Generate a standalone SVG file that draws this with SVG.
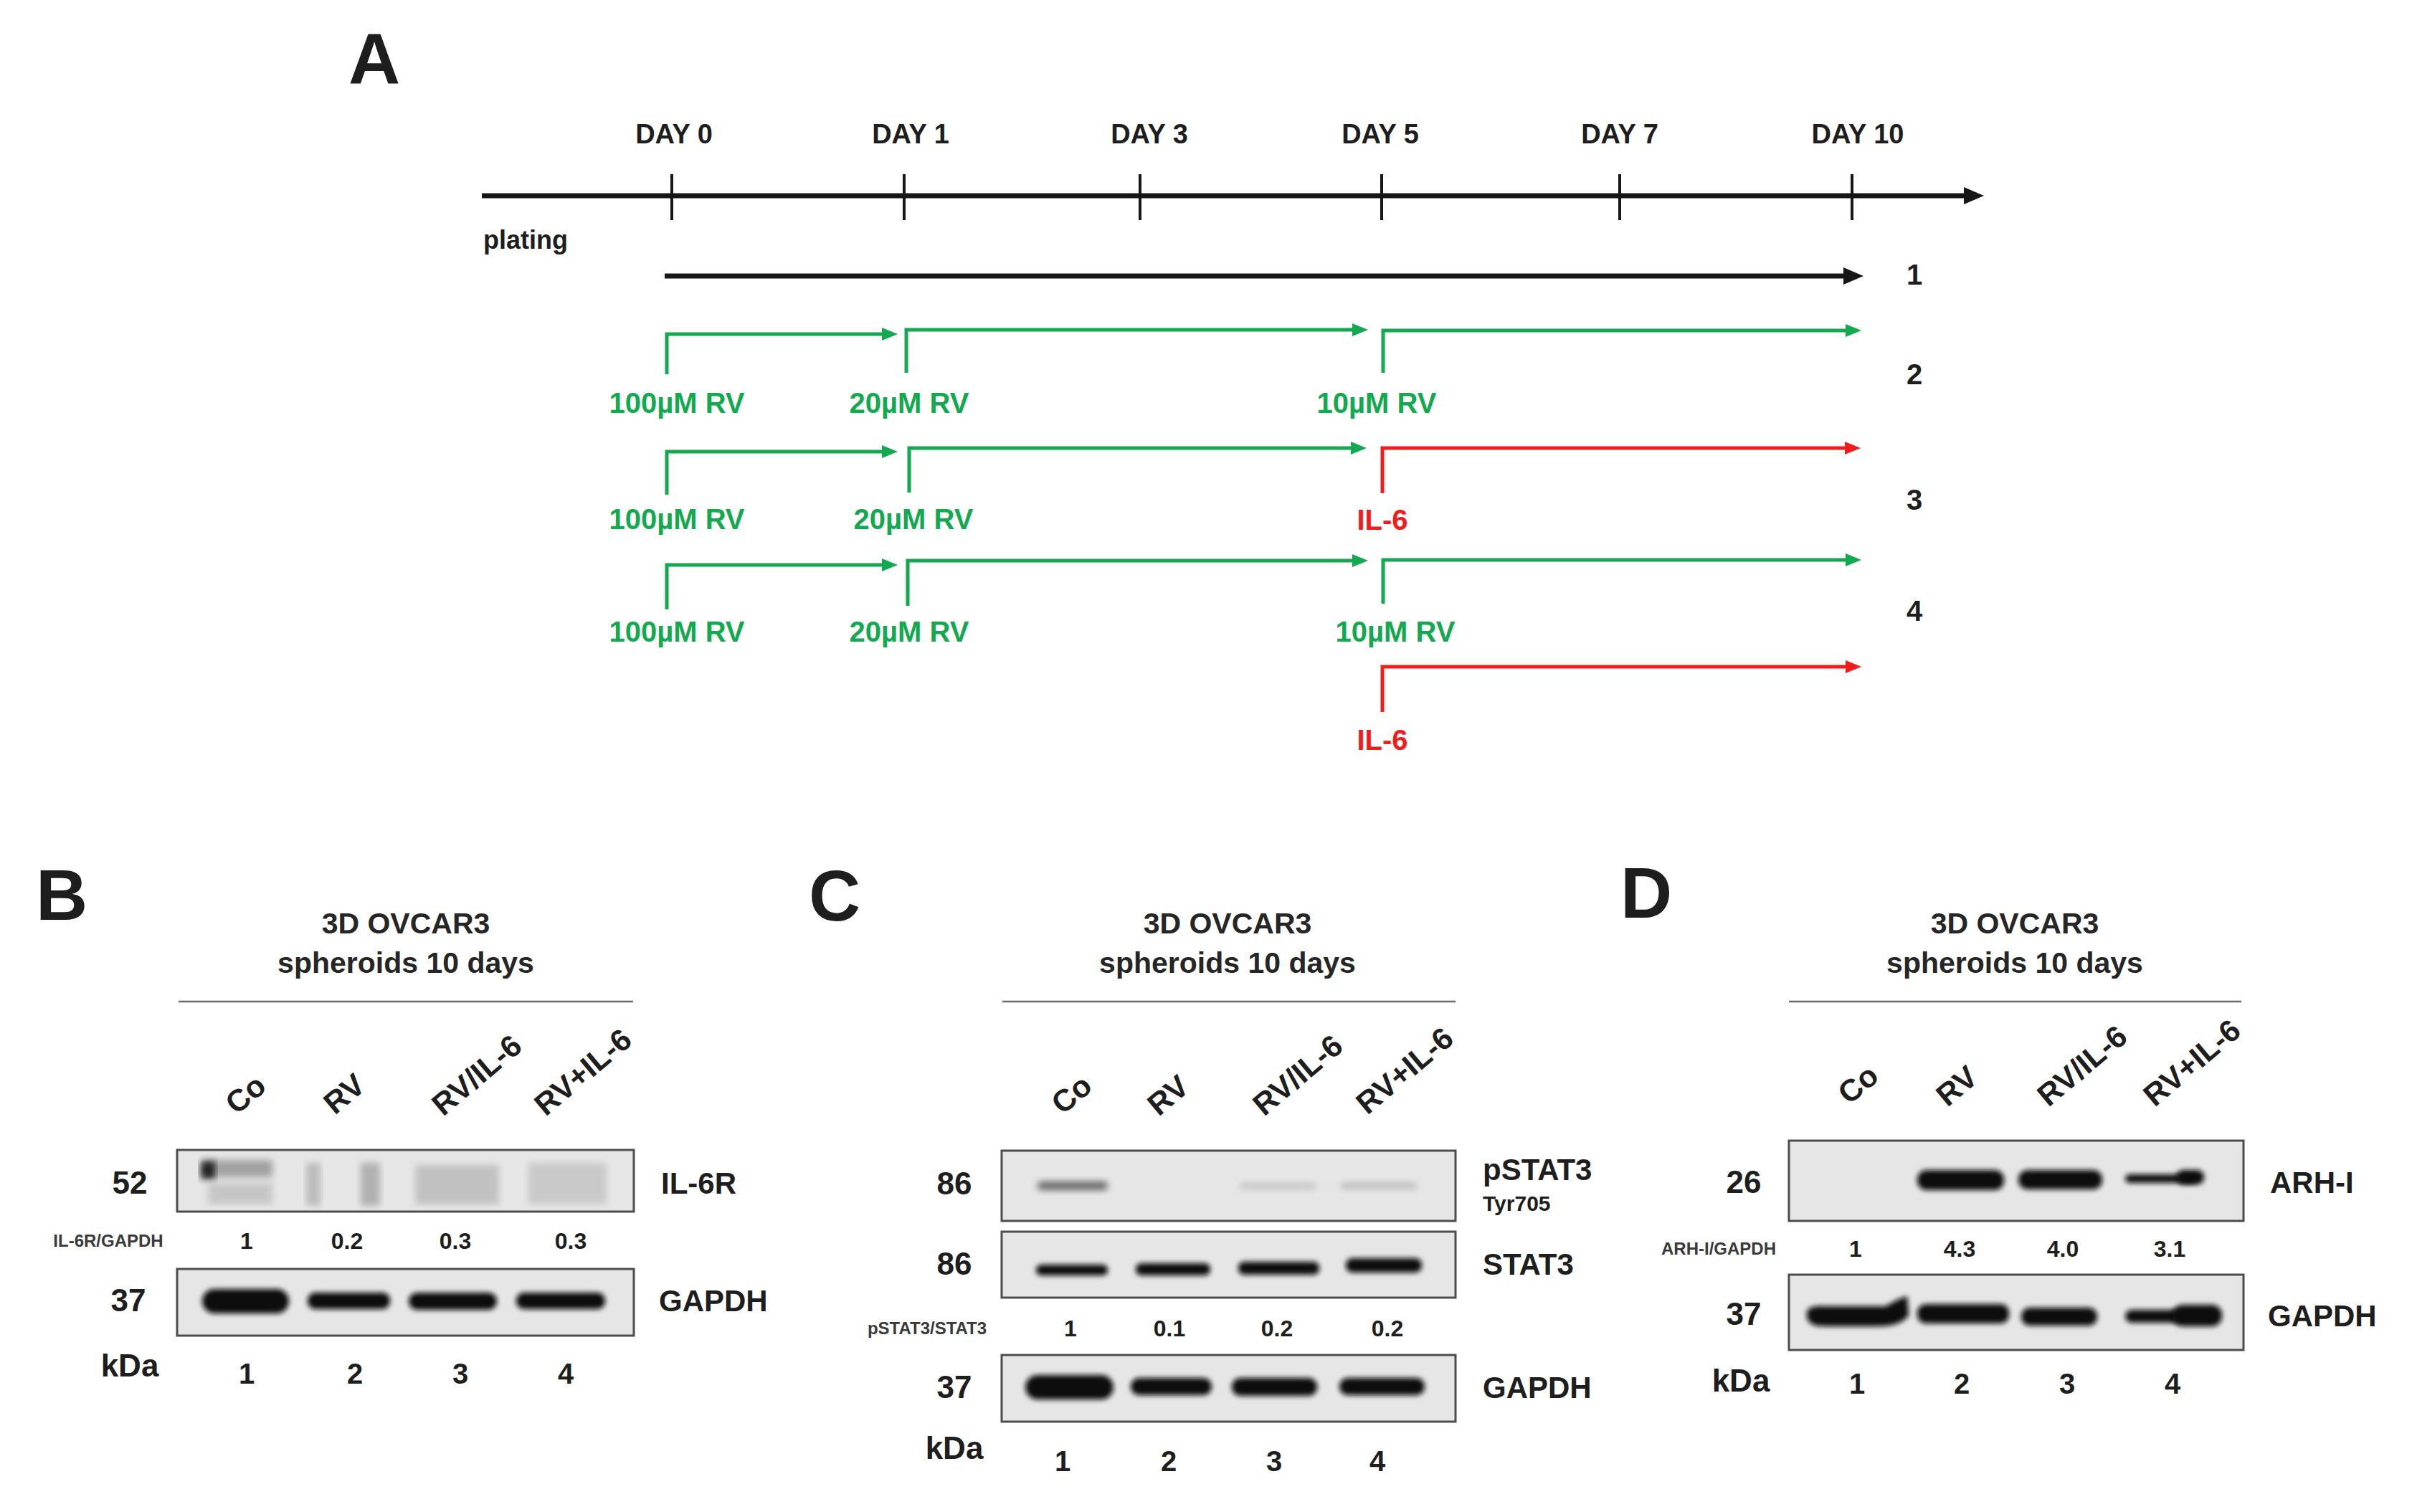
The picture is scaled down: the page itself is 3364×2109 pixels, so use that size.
<svg xmlns="http://www.w3.org/2000/svg" width="3364" height="2109" viewBox="0 0 3364 2109">
<defs>
<style>
.t{font-family:"Liberation Sans",Arial,sans-serif;font-weight:bold;fill:#1e1e1e}
.big{font-size:100px}
.day{font-size:38px;text-anchor:middle}
.g{fill:#14a850;font-size:40px;text-anchor:middle}
.r{fill:#f01d1d;font-size:40px;text-anchor:middle}
.row{font-size:40px;text-anchor:middle}
.title{font-size:41px;text-anchor:middle;fill:#262626}
.mw{font-size:44px;text-anchor:middle}
.prot{font-size:42px}
.small{font-size:30px}
.rv{font-size:32px;text-anchor:middle}
.rl{font-size:24px;text-anchor:middle;fill:#3a3a3a}
.lane{font-size:43px}
.num{font-size:40px;text-anchor:middle}
.box{fill:#e6e6e6;stroke:#4d4d4d;stroke-width:3}
.ul{stroke:#6a6a6a;stroke-width:2.5}
.band{fill:#0b0b0b;filter:url(#bl)}
.faint{filter:url(#bl2)}
.gl{fill:none;stroke:#14a850;stroke-width:5}
.rlne{fill:none;stroke:#f01d1d;stroke-width:5}
.kl{fill:none;stroke:#161616;stroke-width:7}
.tick{stroke:#161616;stroke-width:4}
</style>
<filter id="bl" x="-20%" y="-60%" width="140%" height="220%"><feGaussianBlur stdDeviation="3.5"/></filter>
<filter id="bl2" x="-20%" y="-60%" width="140%" height="220%"><feGaussianBlur stdDeviation="5"/></filter>
<marker id="mg" markerUnits="userSpaceOnUse" markerWidth="24" markerHeight="22" refX="10" refY="11" orient="auto"><path d="M0,2 L22,11 L0,20 z" fill="#14a850"/></marker>
<marker id="mr" markerUnits="userSpaceOnUse" markerWidth="24" markerHeight="22" refX="10" refY="11" orient="auto"><path d="M0,2 L22,11 L0,20 z" fill="#f01d1d"/></marker>
<marker id="mk" markerUnits="userSpaceOnUse" markerWidth="30" markerHeight="28" refX="12" refY="14" orient="auto"><path d="M0,2 L28,14 L0,26 z" fill="#161616"/></marker>
</defs>
<rect width="3364" height="2109" fill="#ffffff"/>

<!-- Panel A -->
<g id="panelA">
<text class="t big" x="486" y="117">A</text>
<g id="timeline">
<line class="tick" x1="937" y1="243" x2="937" y2="307"/>
<line class="tick" x1="1261" y1="243" x2="1261" y2="307"/>
<line class="tick" x1="1590" y1="243" x2="1590" y2="307"/>
<line class="tick" x1="1927" y1="243" x2="1927" y2="307"/>
<line class="tick" x1="2259" y1="243" x2="2259" y2="307"/>
<line class="tick" x1="2583" y1="243" x2="2583" y2="307"/>
<text class="t day" x="940" y="200">DAY 0</text>
<text class="t day" x="1270" y="200">DAY 1</text>
<text class="t day" x="1603" y="200">DAY 3</text>
<text class="t day" x="1925" y="200">DAY 5</text>
<text class="t day" x="2259" y="200">DAY 7</text>
<text class="t day" x="2591" y="200">DAY 10</text>
<text class="t" x="674" y="347" font-size="36" fill="#2a2a2a">plating</text>
</g>
<g id="rowlabels">
<text class="t row" x="2670" y="397">1</text>
<text class="t row" x="2670" y="536">2</text>
<text class="t row" x="2670" y="711">3</text>
<text class="t row" x="2670" y="866">4</text>
</g>
<g id="treatmentlabels">
<text class="t g" x="944" y="576">100µM RV</text>
<text class="t g" x="1268" y="576">20µM RV</text>
<text class="t g" x="1920" y="576">10µM RV</text>
<text class="t g" x="944" y="738">100µM RV</text>
<text class="t g" x="1274" y="738">20µM RV</text>
<text class="t r" x="1928" y="739">IL-6</text>
<text class="t g" x="944" y="895">100µM RV</text>
<text class="t g" x="1268" y="895">20µM RV</text>
<text class="t g" x="1946" y="895">10µM RV</text>
<text class="t r" x="1928" y="1046">IL-6</text>
</g>
</g>

<g id="connectors">
<path class="kl" d="M672,273 H2751" marker-end="url(#mk)"/>
<path class="kl" d="M927,385 H2583" stroke-width="6" marker-end="url(#mk)"/>
<path class="gl" d="M930,522 V466 H1240" marker-end="url(#mg)"/>
<path class="gl" d="M1264,520 V460 H1896" marker-end="url(#mg)"/>
<path class="gl" d="M1929,520 V461 H2584" marker-end="url(#mg)"/>
<path class="gl" d="M930,690 V630 H1240" marker-end="url(#mg)"/>
<path class="gl" d="M1268,687 V625 H1894" marker-end="url(#mg)"/>
<path class="rlne" d="M1928,688 V625 H2583" marker-end="url(#mr)"/>
<path class="gl" d="M930,850 V788 H1240" marker-end="url(#mg)"/>
<path class="gl" d="M1266,845 V782 H1896" marker-end="url(#mg)"/>
<path class="gl" d="M1929,842 V781 H2584" marker-end="url(#mg)"/>
<path class="rlne" d="M1928,993 V930 H2584" marker-end="url(#mr)"/>
</g>

<!-- Panel B -->
<g id="panelB">
<text class="t big" x="50" y="1283" font-size="92">B</text>
<text class="t title" x="566" y="1302">3D OVCAR3</text>
<text class="t title" x="566" y="1357">spheroids 10 days</text>
<line class="ul" x1="249" y1="1397" x2="883" y2="1397"/>
<text class="t lane" x="330" y="1556" transform="rotate(-40 330 1556)">Co</text>
<text class="t lane" x="467" y="1556" transform="rotate(-40 467 1556)">RV</text>
<text class="t lane" x="618" y="1558" transform="rotate(-40 618 1558)">RV/IL-6</text>
<text class="t lane" x="761" y="1558" transform="rotate(-40 761 1558)">RV+IL-6</text>
<g id="blotB1">
<rect class="box" x="247" y="1604" width="637" height="86"/>
<rect class="faint" x="285" y="1618" width="95" height="24" fill="#6a6a6a" opacity="0.55"/>
<rect class="faint" x="280" y="1620" width="20" height="24" fill="#222"/>
<rect class="faint" x="290" y="1650" width="90" height="30" fill="#a8a8a8" opacity="0.5"/>
<rect class="faint" x="427" y="1622" width="20" height="60" fill="#a0a0a0" opacity="0.6"/>
<rect class="faint" x="503" y="1622" width="27" height="60" fill="#8e8e8e" opacity="0.6"/>
<rect class="faint" x="579" y="1625" width="117" height="55" fill="#a4a4a4" opacity="0.55"/>
<rect class="faint" x="737" y="1622" width="109" height="58" fill="#b2b2b2" opacity="0.55"/>
</g>
<g id="blotB2">
<rect class="box" x="247" y="1770" width="637" height="93"/>
<rect class="band" x="282" y="1798" width="121" height="34" rx="17"/>
<rect class="band" x="429" y="1803" width="115" height="23" rx="11"/>
<rect class="band" x="570" y="1803" width="123" height="24" rx="12"/>
<rect class="band" x="720" y="1803" width="124" height="23" rx="11"/>
</g>
<text class="t mw" x="181" y="1665">52</text>
<text class="t mw" x="179" y="1829">37</text>
<text class="t prot" x="922" y="1665">IL-6R</text>
<text class="t prot" x="919" y="1829">GAPDH</text>
<text class="t rl" x="151" y="1739">IL-6R/GAPDH</text>
<text class="t rv" x="344" y="1742">1</text>
<text class="t rv" x="484" y="1742">0.2</text>
<text class="t rv" x="635" y="1742">0.3</text>
<text class="t rv" x="796" y="1742">0.3</text>
<text class="t mw" x="181" y="1920" font-size="42">kDa</text>
<text class="t num" x="344" y="1930">1</text>
<text class="t num" x="495" y="1930">2</text>
<text class="t num" x="642" y="1930">3</text>
<text class="t num" x="789" y="1930">4</text>
</g>

<!-- Panel C -->
<g id="panelC">
<text class="t big" x="1128" y="1284" font-size="92">C</text>
<text class="t title" x="1712" y="1302">3D OVCAR3</text>
<text class="t title" x="1712" y="1357">spheroids 10 days</text>
<line class="ul" x1="1398" y1="1397" x2="2030" y2="1397"/>
<text class="t lane" x="1482" y="1556" transform="rotate(-40 1482 1556)">Co</text>
<text class="t lane" x="1616" y="1558" transform="rotate(-40 1616 1558)">RV</text>
<text class="t lane" x="1763" y="1558" transform="rotate(-40 1763 1558)">RV/IL-6</text>
<text class="t lane" x="1907" y="1556" transform="rotate(-40 1907 1556)">RV+IL-6</text>
<g id="blotC1">
<rect class="box" x="1397" y="1605" width="633" height="98"/>
<rect class="faint" x="1447" y="1648" width="98" height="12" fill="#4a4a4a" opacity="0.8" rx="5"/>
<rect class="faint" x="1729" y="1650" width="106" height="9" fill="#c4c4c4" rx="4"/>
<rect class="faint" x="1870" y="1649" width="106" height="10" fill="#c0c0c0" rx="4"/>
</g>
<g id="blotC2">
<rect class="box" x="1397" y="1718" width="633" height="92"/>
<rect class="band" x="1445" y="1764" width="100" height="15" rx="7" fill="#202020"/>
<rect class="band" x="1584" y="1762" width="104" height="17" rx="8"/>
<rect class="band" x="1727" y="1760" width="113" height="18" rx="8"/>
<rect class="band" x="1877" y="1755" width="106" height="20" rx="9" fill="#222"/>
</g>
<g id="blotC3">
<rect class="box" x="1397" y="1890" width="633" height="93"/>
<rect class="band" x="1430" y="1918" width="123" height="34" rx="17"/>
<rect class="band" x="1577" y="1922" width="113" height="24" rx="12"/>
<rect class="band" x="1718" y="1922" width="119" height="25" rx="12"/>
<rect class="band" x="1868" y="1922" width="119" height="24" rx="12"/>
</g>
<text class="t mw" x="1331" y="1666">86</text>
<text class="t mw" x="1331" y="1778">86</text>
<text class="t mw" x="1331" y="1950">37</text>
<text class="t prot" x="2068" y="1646" font-size="38">pSTAT3</text>
<text class="t small" x="2068" y="1689">Tyr705</text>
<text class="t prot" x="2068" y="1778">STAT3</text>
<text class="t prot" x="2068" y="1950">GAPDH</text>
<text class="t rl" x="1293" y="1861">pSTAT3/STAT3</text>
<text class="t rv" x="1493" y="1864">1</text>
<text class="t rv" x="1631" y="1864">0.1</text>
<text class="t rv" x="1781" y="1864">0.2</text>
<text class="t rv" x="1935" y="1864">0.2</text>
<text class="t mw" x="1331" y="2035" font-size="42">kDa</text>
<text class="t num" x="1482" y="2052">1</text>
<text class="t num" x="1630" y="2052">2</text>
<text class="t num" x="1777" y="2052">3</text>
<text class="t num" x="1921" y="2052">4</text>
</g>

<!-- Panel D -->
<g id="panelD">
<text class="t big" x="2260" y="1280" font-size="92">D</text>
<text class="t title" x="2810" y="1302">3D OVCAR3</text>
<text class="t title" x="2810" y="1357">spheroids 10 days</text>
<line class="ul" x1="2495" y1="1397" x2="3126" y2="1397"/>
<text class="t lane" x="2579" y="1542" transform="rotate(-40 2579 1542)">Co</text>
<text class="t lane" x="2716" y="1545" transform="rotate(-40 2716 1545)">RV</text>
<text class="t lane" x="2857" y="1545" transform="rotate(-40 2857 1545)">RV/IL-6</text>
<text class="t lane" x="3005" y="1545" transform="rotate(-40 3005 1545)">RV+IL-6</text>
<g id="blotD1">
<rect class="box" x="2495" y="1591" width="634" height="112"/>
<rect class="band" x="2674" y="1632" width="121" height="28" rx="13"/>
<rect class="band" x="2815" y="1632" width="117" height="27" rx="13"/>
<rect class="band" x="2964" y="1638" width="100" height="12" rx="6"/>
<rect class="band" x="3036" y="1632" width="38" height="20" rx="9"/>
</g>
<g id="blotD2">
<rect class="box" x="2495" y="1778" width="634" height="105"/>
<path class="band" d="M2520,1832 Q2520,1820 2545,1822 L2630,1822 Q2650,1810 2660,1808 L2662,1835 Q2650,1850 2620,1850 L2545,1850 Q2518,1850 2520,1832 z"/>
<rect class="band" x="2674" y="1819" width="128" height="27" rx="12"/>
<rect class="band" x="2819" y="1824" width="106" height="25" rx="12"/>
<rect class="band" x="2964" y="1827" width="80" height="18" rx="9"/>
<rect class="band" x="3030" y="1820" width="69" height="30" rx="14"/>
</g>
<text class="t mw" x="2432" y="1664">26</text>
<text class="t mw" x="2432" y="1848">37</text>
<text class="t prot" x="3166" y="1664">ARH-I</text>
<text class="t prot" x="3163" y="1850">GAPDH</text>
<text class="t rl" x="2397" y="1750">ARH-I/GAPDH</text>
<text class="t rv" x="2588" y="1753">1</text>
<text class="t rv" x="2733" y="1753">4.3</text>
<text class="t rv" x="2877" y="1753">4.0</text>
<text class="t rv" x="3026" y="1753">3.1</text>
<text class="t mw" x="2428" y="1941" font-size="42">kDa</text>
<text class="t num" x="2590" y="1944">1</text>
<text class="t num" x="2736" y="1944">2</text>
<text class="t num" x="2883" y="1944">3</text>
<text class="t num" x="3030" y="1944">4</text>
</g>
</svg>
